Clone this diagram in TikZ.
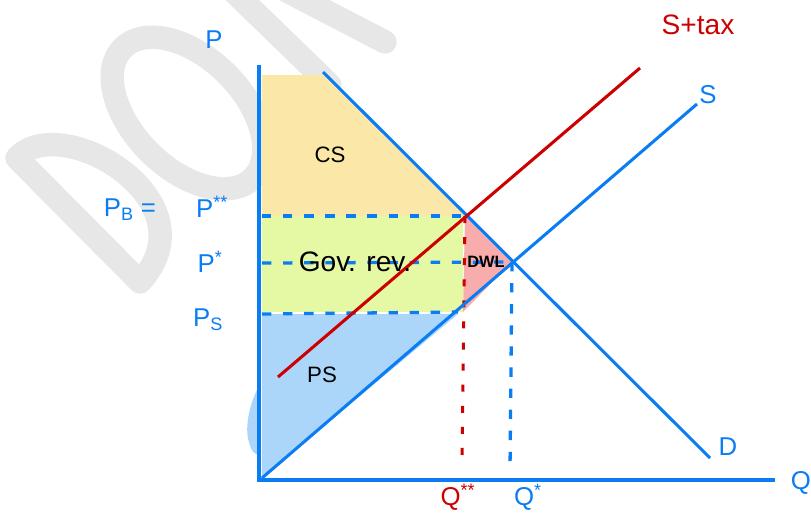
\documentclass[tikz,border=0pt]{standalone}
\usepackage{fontspec}
\setmainfont{Liberation Sans}
\definecolor{axisblue}{RGB}{10,125,245}
\definecolor{taxred}{RGB}{205,0,0}
\definecolor{csfill}{RGB}{251,231,168}
\definecolor{govfill}{RGB}{229,248,164}
\definecolor{psfill}{RGB}{172,213,250}
\definecolor{dwlfill}{RGB}{248,172,172}
\definecolor{wmgray}{RGB}{231,231,231}
\begin{document}
\begin{tikzpicture}[
x=0.03cm, y=-0.03cm,
wm/.style={draw=wmgray, line width=20pt, line cap=round, line join=round},
curve/.style={draw=axisblue, line width=2.6pt},
taxline/.style={draw=taxred, line width=2.6pt},
guide/.style={draw=axisblue, line width=2.8pt, dash pattern=on 8pt off 10pt},
taxguide/.style={draw=taxred, line width=2.6pt, dash pattern=on 6pt off 12pt},
lbl/.style={text=axisblue, font=\fontsize{22}{24}\selectfont},
area/.style={font=\fontsize{19}{22}\selectfont}
]
\useasboundingbox (0,0) rectangle (811,520);
% watermark
\draw[wm] (17,158) -- (140,282) .. controls (215,200) and (60,110) .. cycle;
\draw[wm, rotate around={-45:(188,113)}] (188,113) ellipse [x radius=92, y radius=55];
\draw[wm] (232,-10) -- (330,85);
\draw[wm] (285,-10) -- (385,42);

% points
\coordinate (O) at (259,480);
\coordinate (Ptop) at (259,65);
\coordinate (Qend) at (775,480);
\coordinate (D1) at (323,72);
\coordinate (D2) at (710,458);
\coordinate (S1) at (262,478);
\coordinate (S2) at (697,104);
\coordinate (T1) at (278,377);
\coordinate (T2) at (640,68);
\coordinate (E) at (512,262);
\coordinate (Eb) at (510,470);
\coordinate (T) at (465,216);
\coordinate (Tb) at (462,465);
\coordinate (Ts) at (463,312);

% areas
\fill[csfill] (262,75) -- (326,75) -- (T) -- (262,216) -- cycle;
\fill[govfill] (262,216) rectangle (Ts);
\fill[psfill] (262,314) -- (458,314) -- (S1) -- cycle;
\fill[psfill] (260,385) .. controls (250,400) and (244,428) .. (249,442)
  .. controls (252,452) .. (260,456) -- cycle;
\fill[dwlfill] (T) -- (E) -- (Ts) -- cycle;

% guides
\draw[guide] (262,216) -- (T);
\draw[guide] (262,263) -- (E);
\draw[guide] (262,314) -- (458,312);
\draw[guide] (E) -- (Eb);
\draw[taxguide] (T) -- (Tb);

% curves
\draw[curve] (Ptop) -- (O) -- (Qend);
\draw[curve] (D1) -- (D2);
\draw[curve] (S1) -- (S2);
\draw[taxline] (T1) -- (T2);

% labels
\node[lbl] (lblP) at (214,40) {P};
\node[lbl] (lblQ) at (801,483) {Q};
\node[lbl] (lblD) at (728,447) {D};
\node[lbl] (lblS) at (708,95) {S};
\node[lbl, text=taxred, font=\fontsize{24}{26}\selectfont] (lblST) at (698,25) {S+tax};
\node[lbl] (lblPB) at (130,210) {P\textsubscript{B} =};
\node[lbl] (lblPbb) at (212,207) {P\textsuperscript{**}};
\node[lbl] (lblPstar) at (210,262) {P\textsuperscript{*}};
\node[lbl] (lblPS) at (208,320) {P\textsubscript{S}};
\node[lbl, text=taxred] (lblQtax) at (458,497) {Q\textsuperscript{**}};
\node[lbl] (lblQstar) at (528,497) {Q\textsuperscript{*}};
\node[area] (cs) at (330,155) {CS};
\node[area, font=\fontsize{24}{26}\selectfont] (gov) at (355,262) {Gov. rev.};
\node[area, font=\bfseries\fontsize{14}{16}\selectfont] (dwl) at (486,262) {DWL};
\node[area] (ps) at (322,375) {PS};
\end{tikzpicture}
\end{document}
